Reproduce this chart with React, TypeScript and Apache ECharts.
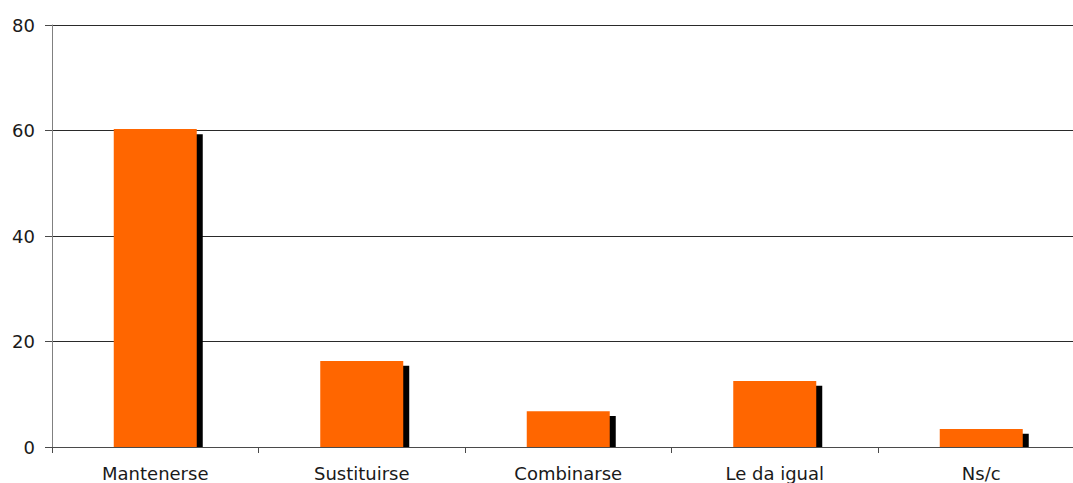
import React, { useEffect, useRef } from "react";
import * as echarts from "echarts";

const categories = ["Mantenerse", "Sustituirse", "Combinarse", "Le da igual", "Ns/c"];
const mainValues = [60.3, 16.3, 6.8, 12.5, 3.4];
const shadowValues = [59.3, 15.4, 5.9, 11.6, 2.5];
const yTicks = { min: 0, max: 80, interval: 20 };

export default function App() {
  const ref = useRef<HTMLDivElement>(null);
  useEffect(() => {
    if (!ref.current) return;
    const chart = echarts.init(ref.current, null, { renderer: "svg" });
    const font = "DejaVu Sans";
    chart.setOption({
      animation: false,
      backgroundColor: "#ffffff",
      grid: [
        { left: 52, width: 1032.5, top: 25, bottom: 36, containLabel: false, outerBoundsMode: "none" },
        { left: 58, width: 1032.5, top: 25, bottom: 36, containLabel: false, outerBoundsMode: "none" },
      ],
      xAxis: [
        {
          type: "category",
          gridIndex: 0,
          data: categories,
          axisLine: { show: true, lineStyle: { color: "#4a4a4a", width: 1 } },
          axisTick: { show: true, length: 6, lineStyle: { color: "#4a4a4a" } },
          axisLabel: { color: "#1a1a1a", fontFamily: font, fontSize: 18, margin: 17 },
          z: 5,
        },
        {
          type: "category",
          gridIndex: 1,
          data: categories,
          show: false,
        },
      ],
      yAxis: [
        {
          type: "value",
          gridIndex: 0,
          min: yTicks.min,
          max: yTicks.max,
          interval: yTicks.interval,
          axisLine: { show: true, lineStyle: { color: "#808080", width: 1 } },
          axisTick: { show: true, length: 7, lineStyle: { color: "#4a4a4a" } },
          axisLabel: { color: "#1a1a1a", fontFamily: font, fontSize: 18, margin: 17 },
          splitLine: { show: true, lineStyle: { color: "#2a2a2a", width: 1 } },
        },
        {
          type: "value",
          gridIndex: 1,
          min: yTicks.min,
          max: yTicks.max,
          interval: yTicks.interval,
          show: false,
          splitLine: { show: false },
        },
      ],
      series: [
        {
          type: "bar",
          xAxisIndex: 1,
          yAxisIndex: 1,
          data: shadowValues,
          barWidth: 83,
          itemStyle: { color: "#000000" },
          z: 1,
        },
        {
          type: "bar",
          xAxisIndex: 0,
          yAxisIndex: 0,
          data: mainValues,
          barWidth: 83,
          itemStyle: { color: "#ff6600" },
          z: 3,
        },
      ],
    });
    return () => chart.dispose();
  }, []);
  return (
    <div
      ref={ref}
      style={{ position: "fixed", left: 0, top: 0, width: 1073, height: 483 }}
    />
  );
}
